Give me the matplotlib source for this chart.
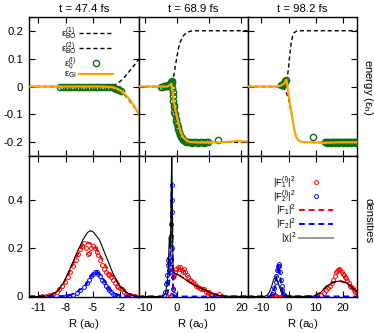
import matplotlib
matplotlib.use("Agg")
import matplotlib.pyplot as plt
from matplotlib.lines import Line2D

plt.rcParams['font.family'] = ['Liberation Sans', 'DejaVu Sans']
plt.rcParams['mathtext.fontset'] = 'custom'
plt.rcParams['mathtext.rm'] = 'Liberation Sans'
plt.rcParams['mathtext.it'] = 'Liberation Sans'
plt.rcParams['mathtext.bf'] = 'Liberation Sans:bold'
plt.rcParams['axes.unicode_minus'] = False

# ---------------- data ----------------
titles = ["t = 47.4 fs", "t = 68.9 fs", "t = 98.2 fs"]
xlims = [(-12, 0), (-12, 22), (-15, 25)]
xticks = [[-11, -8, -5, -2], [-10, 0, 10, 20], [-10, 0, 10, 20]]
e_ticks = [-0.2, -0.1, 0, 0.1, 0.2]
e_ticklabels = ["-0.2", "-0.1", "0", "0.1", "0.2"]
d_ticks = [0, 0.2, 0.4]
d_ticklabels = ["0", "0.2", "0.4"]

# t = 47.4 fs : energies
bo1_x_a = [-12, -3.5, -3.0, -2.5, -2.0, -1.5, -1.0, -0.5, 0.0]
bo1_y_a = [0.0, 0.0, 0.002, 0.008, 0.019, 0.035, 0.055, 0.075, 0.097]
bo2_x_a = [-12, -3.5, -3.0, -2.5, -2.0, -1.5, -1.0, -0.5, 0.0]
bo2_y_a = [0.0, 0.0, -0.002, -0.007, -0.016, -0.031, -0.05, -0.072, -0.097]
gi_x_a = [-12, -4.0, -3.0, -2.5, -2.0, -1.5, -1.0, -0.5, 0.0]
gi_y_a = [0.0, 0.0, -0.002, -0.006, -0.013, -0.027, -0.045, -0.068, -0.097]
e0_x_a = [-8.6, -8.3, -8.0, -7.7, -7.4, -7.1, -6.8, -6.5, -6.2, -5.9, -5.6, -5.3, -5.0,
          -4.7, -4.4, -4.1, -3.8, -3.5, -3.2, -2.9, -2.7, -2.5, -2.3, -2.1, -1.9]
e0_y_a = [0.0, 0.0, 0.0, 0.0, 0.0, 0.0, 0.0, 0.0, 0.0, 0.0, 0.0, 0.0, 0.0,
          0.0, 0.0, 0.0, -0.001, -0.001, -0.002, -0.003, -0.005, -0.007, -0.01, -0.013, -0.017]

# t = 68.9 fs : energies
bo1_x_b = [-12, -3.0, -2.0, -1.5, -1.0, -0.5, 0.0, 0.5, 1.0, 2.0, 3.0, 4.0, 5.0, 22]
bo1_y_b = [0.0, 0.0, 0.003, 0.015, 0.04, 0.075, 0.11, 0.14, 0.16, 0.183, 0.193, 0.198, 0.2, 0.2]
bo2_x_b = [-12, -2.5, -2.0, -1.5, -1.0, -0.5, 0.0, 0.5, 1.0, 2.0, 3.0, 22]
bo2_y_b = [0.0, 0.0, -0.005, -0.03, -0.07, -0.11, -0.145, -0.17, -0.185, -0.195, -0.199, -0.2]
gi_x_b = [-12, -3.0, -2.2, -1.8, -1.6, -1.3, -1.0, -0.5, 0.0, 0.5, 1.0, 1.5, 2.0, 3.0, 4.0,
          6.0, 10, 14, 17, 19, 20, 22]
gi_y_b = [0.0, 0.0, 0.005, 0.01, 0.0, -0.03, -0.055, -0.085, -0.11, -0.135, -0.157, -0.172,
          -0.183, -0.194, -0.199, -0.2, -0.2, -0.2, -0.197, -0.194, -0.196, -0.197]
e0_x_b = [-5.0, -4.6, -4.2, -3.8, -3.4, -3.0, -2.7, -2.4, -2.1, -1.9, -1.8, -1.7, -1.6, -1.5,
          -1.4, -1.3, -1.2, -1.1, -1.0, -0.8, -0.6, -0.4, -0.2, 0.0, 0.2, 0.4, 0.7, 1.0, 1.3,
          1.6, 2.0, 2.4, 2.8, 3.2, 3.7, 4.2, 4.8, 5.4, 6.0, 6.6, 7.2, 7.8, 8.4, 9.0, 9.6, 12.8]
e0_y_b = [0.0, 0.0, 0.001, 0.001, 0.002, 0.003, 0.004, 0.006, 0.009, 0.012, 0.018, 0.02, 0.012,
          -0.005, -0.02, -0.035, -0.05, -0.065, -0.075, -0.09, -0.1, -0.115, -0.125, -0.135,
          -0.145, -0.152, -0.163, -0.172, -0.18, -0.186, -0.192, -0.196, -0.199, -0.2, -0.2,
          -0.2, -0.201, -0.2, -0.2, -0.201, -0.2, -0.2, -0.201, -0.2, -0.2, -0.193]

# t = 98.2 fs : energies
bo1_x_c = [-15, -3.0, -2.0, -1.0, -0.5, 0.0, 0.5, 1.0, 1.5, 2.0, 3.0, 4.0, 25]
bo1_y_c = [0.0, 0.0, 0.002, 0.01, 0.03, 0.07, 0.12, 0.16, 0.182, 0.193, 0.199, 0.2, 0.2]
bo2_x_c = [-15, -2.5, -2.0, -1.5, -1.0, -0.5, 0.0, 0.5, 1.0, 1.5, 2.0, 2.5, 3.0, 4.0, 5.0, 25]
bo2_y_c = [0.0, 0.0, -0.002, -0.008, -0.02, -0.03, -0.045, -0.07, -0.095, -0.125, -0.152,
           -0.172, -0.186, -0.196, -0.2, -0.2]
gi_x_c = [-15, -5.0, -3.0, -2.0, -1.5, -1.0, -0.8, -0.5, 0.0, 0.5, 1.0, 1.5, 2.0, 2.5, 3.0,
          4.0, 5.0, 8.0, 12, 18, 25]
gi_y_c = [0.0, 0.0, 0.003, 0.008, 0.013, 0.022, 0.025, 0.005, -0.03, -0.06, -0.09, -0.12,
          -0.15, -0.17, -0.185, -0.195, -0.199, -0.2, -0.202, -0.2, -0.2]
e0_x_c = [-2.8, -2.6, -2.4, -2.2, -2.0, -1.8, -1.6, -1.4, -1.2, -1.0, 9.1,
          13.4, 13.8, 14.2, 14.6, 15.0, 15.4, 15.8, 16.2, 16.6, 17.0, 17.4, 17.8, 18.2, 18.6,
          19.0, 19.4, 19.8, 20.2, 20.6, 21.0, 21.4, 21.8, 22.2, 22.6, 23.0, 23.4, 23.8, 24.2,
          24.6, 25.0]
e0_y_c = [0.004, 0.005, 0.006, 0.007, 0.009, 0.011, 0.013, 0.016, 0.019, 0.022, -0.18,
          -0.2, -0.2, -0.201, -0.2, -0.2, -0.201, -0.2, -0.2, -0.2, -0.201, -0.2, -0.2, -0.201,
          -0.2, -0.2, -0.2, -0.201, -0.2, -0.2, -0.2, -0.201, -0.2, -0.2, -0.2, -0.201, -0.2,
          -0.2, -0.2, -0.201, -0.2]

# t = 47.4 fs : densities
chi_x_a = [-12, -10.5, -9.7, -9.0, -8.3, -7.6, -6.8, -6.1, -5.6, -5.3, -5.0, -4.3, -3.55,
           -2.8, -2.1, -1.4, -0.65, 0.0]
chi_y_a = [0.0, 0.0, 0.004, 0.018, 0.053, 0.109, 0.179, 0.235, 0.265, 0.272, 0.268, 0.235,
           0.165, 0.095, 0.046, 0.018, 0.004, 0.001]
f1_x_a = [-12, -10, -9.0, -8.3, -7.6, -6.8, -6.2, -5.8, -5.3, -4.65, -3.93, -3.2, -2.5, -1.7,
          -1.0, 0.0]
f1_y_a = [0.0, 0.002, 0.017, 0.05, 0.1, 0.165, 0.21, 0.225, 0.22, 0.2, 0.15, 0.1, 0.07, 0.032,
          0.011, 0.001]
f2_x_a = [-12, -8.0, -7.5, -6.8, -6.2, -5.7, -5.2, -4.7, -4.3, -3.9, -3.5, -3.2, -2.8, -2.5,
          -2.0, -1.5, 0.0]
f2_y_a = [0.0, 0.002, 0.006, 0.018, 0.035, 0.053, 0.085, 0.105, 0.095, 0.074, 0.05, 0.032,
          0.018, 0.011, 0.004, 0.001, 0.0]
f1l_x_a = [-10.6, -10.2, -9.8, -9.4, -9.0, -8.7, -8.4, -8.1, -7.8, -7.5, -7.2, -6.9, -6.6,
           -6.4, -6.2, -6.0, -5.8, -5.6, -5.4, -5.2, -5.0, -4.8, -4.6, -4.4, -4.2, -4.0, -3.8,
           -3.6, -3.4, -3.2, -3.0, -2.8, -2.6, -2.4, -2.2, -2.0, -1.8, -1.6, -1.4, -1.2, -1.0,
           -0.7, -0.4]
f1l_y_a = [0.001, 0.003, 0.006, 0.012, 0.02, 0.032, 0.045, 0.06, 0.08, 0.1, 0.125, 0.15, 0.175,
           0.195, 0.21, 0.22, 0.2, 0.175, 0.18, 0.2, 0.21, 0.2, 0.185, 0.17, 0.15, 0.13, 0.115,
           0.1, 0.095, 0.09, 0.08, 0.07, 0.055, 0.045, 0.04, 0.035, 0.03, 0.02, 0.012, 0.008,
           0.005, 0.003, 0.001]
f2l_x_a = [-8.0, -7.6, -7.2, -6.8, -6.4, -6.0, -5.7, -5.4, -5.2, -5.0, -4.8, -4.6, -4.4, -4.2,
           -4.0, -3.8, -3.6, -3.4, -3.2, -3.0, -2.8, -2.6, -2.4, -2.2]
f2l_y_a = [0.001, 0.003, 0.008, 0.015, 0.025, 0.04, 0.055, 0.07, 0.085, 0.095, 0.1, 0.102,
           0.095, 0.085, 0.07, 0.058, 0.045, 0.035, 0.025, 0.018, 0.012, 0.008, 0.004, 0.002]

# t = 68.9 fs : densities
chi_x_b = [-12, -5.0, -4.0, -3.5, -3.0, -2.7, -2.4, -2.2, -2.0, -1.8, -1.63, -1.45, -1.25,
           -1.0, 0.0, 1.0, 3.0, 5.0, 7.0, 9.0, 11, 13, 15, 22]
chi_y_b = [0.0, 0.0, 0.005, 0.02, 0.06, 0.13, 0.245, 0.2, 0.25, 0.45, 0.62, 0.3, 0.12, 0.1,
           0.092, 0.085, 0.067, 0.05, 0.037, 0.025, 0.012, 0.004, 0.001, 0.0]
f1_x_b = [-12, -3.0, -2.0, -1.5, -1.0, -0.5, 0.0, 1.0, 3.0, 5.0, 7.0, 9.0, 11, 13, 15, 22]
f1_y_b = [0.0, 0.0, 0.005, 0.02, 0.08, 0.095, 0.092, 0.085, 0.067, 0.05, 0.037, 0.025, 0.012,
          0.004, 0.001, 0.0]
f2_x_b = [-12, -3.5, -3.0, -2.6, -2.3, -2.0, -1.8, -1.63, -1.45, -1.25, -1.0, -0.5, 22]
f2_y_b = [0.0, 0.0, 0.01, 0.04, 0.08, 0.2, 0.35, 0.47, 0.25, 0.05, 0.005, 0.0, 0.0]
f1l_x_b = [-1.2, -0.8, -0.5, -0.2, 0.2, 0.6, 1.0, 1.4, 1.8, 2.2, 2.6, 3.0, 3.5, 4.0, 4.5, 5.0,
           5.5, 6.0, 6.5, 7.0, 7.5, 8.0, 8.5, 9.0, 9.5, 10.0, 10.5, 11.0, 12.0, 13.0, 14.0]
f1l_y_b = [0.03, 0.09, 0.1, 0.115, 0.12, 0.115, 0.12, 0.11, 0.1, 0.115, 0.1, 0.09, 0.08, 0.07,
           0.065, 0.06, 0.05, 0.045, 0.04, 0.035, 0.03, 0.03, 0.03, 0.02, 0.015, 0.02, 0.01,
           0.008, 0.006, 0.01, 0.003]
f2l_x_b = [-4.0, -3.6, -3.3, -3.1, -3.0, -2.8, -2.7, -2.6, -2.5, -2.4, -2.3, -2.2, -2.0, -1.9,
           -1.8, -1.7, -1.65, -1.55, -1.45, -1.3, -1.2, -1.0, -0.8]
f2l_y_b = [0.005, 0.02, 0.05, 0.06, 0.09, 0.13, 0.15, 0.11, 0.16, 0.14, 0.12, 0.1, 0.15, 0.25,
           0.3, 0.4, 0.46, 0.35, 0.2, 0.08, 0.03, 0.01, 0.0]

# t = 98.2 fs : densities
chi_x_c = [-15, -9.0, -8.0, -7.0, -6.0, -5.5, -4.9, -4.3, -3.5, -3.0, -2.0, -1.0, 5.0, 9.0,
           11.5, 14, 16, 17.5, 18.8, 20, 21.3, 23, 25]
chi_y_c = [0.0, 0.0, 0.004, 0.018, 0.05, 0.07, 0.078, 0.07, 0.045, 0.03, 0.008, 0.001, 0.0,
           0.001, 0.014, 0.043, 0.057, 0.062, 0.064, 0.062, 0.056, 0.04, 0.018]
f1_x_c = [-15, -6.0, -5.0, -4.0, 5.0, 9.0, 11.5, 14, 16, 18.8, 21.3, 23, 25]
f1_y_c = [0.0, 0.0, 0.003, 0.002, 0.0, 0.001, 0.014, 0.043, 0.057, 0.064, 0.056, 0.04, 0.018]
f2_x_c = [-15, -7.0, -6.0, -5.0, -4.3, -3.7, -3.2, -2.6, -2.0, -1.2, 25]
f2_y_c = [0.0, 0.0, 0.008, 0.04, 0.095, 0.13, 0.1, 0.045, 0.012, 0.001, 0.0]
f1l_x_c = [-6.0, -5.5, -5.0, -4.5, 12.0, 12.8, 13.6, 14.4, 15.2, 15.8, 16.4, 17.0, 17.4, 17.8,
           18.2, 18.6, 19.0, 19.4, 19.8, 20.2, 20.6, 21.0, 21.5, 22.0, 22.5, 23.0, 23.5, 24.0,
           24.5, 25.0]
f1l_y_c = [0.002, 0.004, 0.005, 0.003, 0.005, 0.015, 0.025, 0.035, 0.045, 0.055, 0.07, 0.085,
           0.1, 0.105, 0.11, 0.115, 0.11, 0.1, 0.095, 0.09, 0.08, 0.075, 0.065, 0.055, 0.045,
           0.04, 0.035, 0.025, 0.02, 0.015]
f2l_x_c = [-6.5, -6.0, -5.6, -5.2, -4.8, -4.5, -4.2, -3.9, -3.7, -3.5, -3.2, -2.9, -2.6, -2.3,
           -2.0, -1.7, -1.4]
f2l_y_c = [0.003, 0.01, 0.02, 0.035, 0.06, 0.085, 0.11, 0.128, 0.133, 0.125, 0.1, 0.07, 0.045,
           0.025, 0.012, 0.005, 0.002]

energy_sets = [
    (bo1_x_a, bo1_y_a, bo2_x_a, bo2_y_a, e0_x_a, e0_y_a, gi_x_a, gi_y_a),
    (bo1_x_b, bo1_y_b, bo2_x_b, bo2_y_b, e0_x_b, e0_y_b, gi_x_b, gi_y_b),
    (bo1_x_c, bo1_y_c, bo2_x_c, bo2_y_c, e0_x_c, e0_y_c, gi_x_c, gi_y_c),
]
density_sets = [
    (f1l_x_a, f1l_y_a, f2l_x_a, f2l_y_a, f1_x_a, f1_y_a, f2_x_a, f2_y_a, chi_x_a, chi_y_a),
    (f1l_x_b, f1l_y_b, f2l_x_b, f2l_y_b, f1_x_b, f1_y_b, f2_x_b, f2_y_b, chi_x_b, chi_y_b),
    (f1l_x_c, f1l_y_c, f2l_x_c, f2l_y_c, f1_x_c, f1_y_c, f2_x_c, f2_y_c, chi_x_c, chi_y_c),
]

# ---------------- style ----------------
GREEN = '#0f6e0f'
ORANGE = '#ffa500'
RED = '#ff0000'
BLUE = '#0000ff'
DASH = (0, (3, 2))
FS = 8.2
LFS = 6.8

W, H = 374, 333
fig = plt.figure(figsize=(W / 100, H / 100), dpi=100)
col_edges = [29.3, 138.5, 247.7, 356.8]
row_edges = [16.8, 156.3, 296.5]


def make_ax(ci, ri):
    x0 = col_edges[ci] / W
    w = (col_edges[ci + 1] - col_edges[ci]) / W
    y0 = 1 - row_edges[ri + 1] / H
    h = (row_edges[ri + 1] - row_edges[ri]) / H
    return fig.add_axes([x0, y0, w, h])


def style(ax):
    ax.tick_params(direction='in', top=True, right=True, length=4, width=0.8,
                   labelsize=FS, pad=4.5)
    for s in ax.spines.values():
        s.set_linewidth(1.0)


top_axes, bot_axes = [], []
for i in range(3):
    ax = make_ax(i, 0)
    bo1x, bo1y, bo2x, bo2y, e0x, e0y, gix, giy = energy_sets[i]
    ax.plot(bo1x, bo1y, color='k', ls=DASH, lw=1.0, zorder=2)
    ax.plot(bo2x, bo2y, color='k', ls=DASH, lw=1.0, zorder=2)
    ax.plot(e0x, e0y, ls='none', marker='o', ms=4.5, mfc='none', mec=GREEN, mew=1.0, zorder=3)
    ax.plot(gix, giy, color=ORANGE, lw=1.6, zorder=4)
    ax.set_xlim(*xlims[i])
    ax.set_ylim(-0.25, 0.25)
    ax.set_xticks(xticks[i])
    ax.set_xticklabels([])
    ax.set_yticks(e_ticks)
    if i == 0:
        ax.set_yticklabels(e_ticklabels)
    else:
        ax.set_yticklabels([])
    ax.set_title(titles[i], fontsize=FS, pad=3.5)
    style(ax)
    top_axes.append(ax)

    ax = make_ax(i, 1)
    f1lx, f1ly, f2lx, f2ly, f1x, f1y, f2x, f2y, chx, chy = density_sets[i]
    ax.plot(f1lx, f1ly, ls='none', marker='o', ms=2.8, mfc='none', mec=RED, mew=0.7, zorder=2)
    ax.plot(f2lx, f2ly, ls='none', marker='o', ms=2.8, mfc='none', mec=BLUE, mew=0.7, zorder=2)
    ax.plot(f1x, f1y, color=RED, ls=DASH, lw=1.4, zorder=3)
    ax.plot(f2x, f2y, color=BLUE, ls=DASH, lw=1.4, zorder=3)
    ax.plot(chx, chy, color='k', lw=0.8, zorder=4)
    ax.set_xlim(*xlims[i])
    ax.set_ylim(0, 0.58)
    ax.set_xticks(xticks[i])
    ax.set_xticklabels([str(t) for t in xticks[i]])
    ax.set_yticks(d_ticks)
    if i == 0:
        ax.set_yticklabels(d_ticklabels)
    else:
        ax.set_yticklabels([])
    ax.set_xlabel(r'R (a$_0$)', fontsize=FS, labelpad=3)
    style(ax)
    bot_axes.append(ax)

# legends
h_top = [
    Line2D([], [], color='k', ls=DASH, lw=1.0),
    Line2D([], [], color='k', ls=DASH, lw=1.0),
    Line2D([], [], ls='none', marker='o', ms=4.5, mfc='none', mec=GREEN, mew=1.0),
    Line2D([], [], color=ORANGE, lw=1.6),
]
l_top = [r'$\varepsilon_{BO}^{(1)}$', r'$\varepsilon_{BO}^{(2)}$',
         r'$\varepsilon_{0}^{(l)}$', r'$\varepsilon_{GI}$']
leg1 = fig.legend(h_top, l_top, loc='upper right', bbox_to_anchor=(113 / W, 1 - 25 / H),
                  frameon=False, markerfirst=False, fontsize=LFS, handlelength=3.6,
                  handletextpad=0.3, labelspacing=-0.1, borderpad=0, borderaxespad=0)
leg1.set_zorder(10)

h_bot = [
    Line2D([], [], ls='none', marker='o', ms=2.8, mfc='none', mec=RED, mew=0.7),
    Line2D([], [], ls='none', marker='o', ms=2.8, mfc='none', mec=BLUE, mew=0.7),
    Line2D([], [], color=RED, ls=DASH, lw=1.4),
    Line2D([], [], color=BLUE, ls=DASH, lw=1.4),
    Line2D([], [], color='#999999', lw=1.4),
]
l_bot = [r'$|F_1^{(l)}|^2$', r'$|F_2^{(l)}|^2$', r'$|F_1|^2$', r'$|F_2|^2$', r'$|\chi|^2$']
fig.legend(h_bot, l_bot, loc='upper right', bbox_to_anchor=(333 / W, 1 - 174 / H),
           frameon=False, markerfirst=False, fontsize=LFS, handlelength=3.6,
           handletextpad=0.3, labelspacing=-0.16, borderpad=0, borderaxespad=0)

fig.text(368 / W, 1 - 87.5 / H, r'energy ($\varepsilon_h$)', rotation=270,
         ha='center', va='center', fontsize=FS)
fig.text(368 / W, 1 - 221 / H, 'densities', rotation=270,
         ha='center', va='center', fontsize=FS)

fig.savefig('out.png', dpi=100)
